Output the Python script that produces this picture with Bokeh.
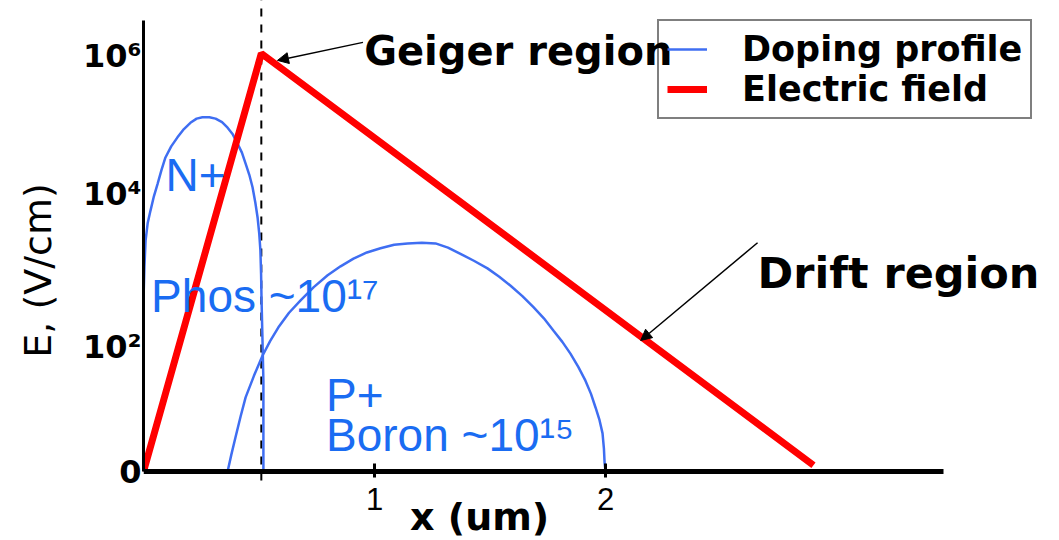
from bokeh.plotting import figure
from bokeh.models import (Range1d, FixedTicker, Label, Arrow, NormalHead,
                          Legend, LegendItem)
from bokeh.embed import file_html
from bokeh.resources import INLINE

# Depth into the device in um; vertical axis in decades above the baseline.
field_x = [0.0, 0.51, 2.90]
field_y = [0.0, 6.03, 0.09]

# N+ (phosphorus) implant profile
phos_x = [0.0, 0.0, 0.004, 0.009, 0.018, 0.030, 0.045, 0.061, 0.078, 0.095,
          0.120, 0.147, 0.175, 0.203, 0.230, 0.255, 0.285, 0.312, 0.340,
          0.364, 0.387, 0.407, 0.426, 0.442, 0.458, 0.472, 0.484, 0.494,
          0.501, 0.506, 0.509, 0.511, 0.515, 0.519, 0.519]
phos_y = [0.0, 2.47, 2.95, 3.33, 3.58, 3.76, 3.97, 4.15, 4.35, 4.53,
          4.69, 4.82, 4.94, 5.03, 5.09, 5.11, 5.11, 5.09, 5.04,
          4.96, 4.86, 4.73, 4.60, 4.44, 4.28, 4.10, 3.88, 3.66,
          3.43, 3.19, 2.85, 2.47, 1.90, 1.31, 0.0]

# P+ (boron) implant profile
boron_x = [0.364, 0.380, 0.398, 0.420, 0.442, 0.478, 0.515, 0.548, 0.584,
           0.630, 0.680, 0.737, 0.797, 0.853, 0.909, 0.967, 1.026, 1.085,
           1.143, 1.205, 1.264, 1.318, 1.372, 1.430, 1.489, 1.540, 1.589,
           1.640, 1.688, 1.733, 1.775, 1.813, 1.848, 1.882, 1.913, 1.937,
           1.957, 1.974, 1.987, 1.993, 1.996, 2.0]
boron_y = [0.0, 0.24, 0.49, 0.79, 1.07, 1.38, 1.67, 1.88, 2.08,
           2.29, 2.47, 2.66, 2.83, 2.96, 3.07, 3.16, 3.22, 3.27,
           3.29, 3.30, 3.29, 3.23, 3.14, 3.04, 2.93, 2.81, 2.68,
           2.53, 2.37, 2.21, 2.03, 1.87, 1.70, 1.51, 1.31, 1.12,
           0.92, 0.74, 0.55, 0.33, 0.12, 0.0]

# junction depth marker
junction_x = [0.51, 0.51]
junction_y = [-0.13, 6.8]

x_ticks = [1, 2]
y_tick_pos = [0, 1.8, 4, 6]
y_tick_text = ["0", "10²", "10⁴", "10⁶"]

BLUE_LINE = "#3f6ef2"
BLUE_TEXT = "#1a6cf2"
BOLD_FONT = "DejaVu Sans"
THIN_FONT = "Liberation Sans"

p = figure(width=1059, height=540,
           x_range=Range1d(0, 3.965), y_range=Range1d(-0.995, 6.794),
           output_backend="svg", toolbar_location=None,
           min_border_left=143, min_border_right=0,
           min_border_top=0, min_border_bottom=0)
p.outline_line_color = None
p.background_fill_color = "white"
p.border_fill_color = "white"
p.xgrid.visible = False
p.ygrid.visible = False

# x axis sits on the zero line
xa = p.xaxis[0]
xa.fixed_location = 0
xa.ticker = FixedTicker(ticks=x_ticks)
xa.bounds = (0, 3.463)
xa.axis_line_width = 5
xa.axis_line_color = "black"
xa.major_tick_line_width = 3
xa.major_tick_in = 8
xa.major_tick_out = 6
xa.minor_tick_line_color = None
xa.major_label_text_font = THIN_FONT
xa.major_label_text_font_size = "31px"
xa.major_label_text_color = "black"
xa.major_label_standoff = 10

# y axis
ya = p.yaxis[0]
ya.ticker = FixedTicker(ticks=y_tick_pos)
ya.major_label_overrides = {v: t for v, t in zip(y_tick_pos, y_tick_text)}
ya.bounds = (0, 6.5)
ya.axis_line_width = 3
ya.axis_line_color = "black"
ya.major_tick_in = 0
ya.major_tick_out = 0
ya.minor_tick_line_color = None
ya.major_label_text_font = BOLD_FONT
ya.major_label_text_font_style = "bold"
ya.major_label_text_font_size = "32px"
ya.major_label_text_color = "black"
ya.major_label_standoff = 2
ya.axis_label = "E, (V/cm)"
ya.axis_label_text_font = BOLD_FONT
ya.axis_label_text_font_style = "normal"
ya.axis_label_text_font_size = "38px"
ya.axis_label_text_color = "black"
ya.axis_label_standoff = 20

p.line(junction_x, junction_y, line_color="black", line_width=2,
       line_dash="8 8")

# doping profiles and electric field
r_phos = p.line(phos_x, phos_y, line_color=BLUE_LINE, line_width=2.5)
r_boron = p.line(boron_x, boron_y, line_color=BLUE_LINE, line_width=2.5)
r_field = p.line(field_x, field_y, line_color="red", line_width=7)

# open legend box: the "Geiger region" caption runs into its left edge
legend = Legend(items=[LegendItem(label="Doping profile", renderers=[r_phos]),
                       LegendItem(label="Electric field", renderers=[r_field])],
                location=(514, 421))
legend.label_text_font = BOLD_FONT
legend.label_text_font_style = "bold"
legend.label_text_font_size = "35px"
legend.label_text_color = "black"
legend.label_standoff = 35
legend.glyph_width = 40
legend.padding = 8
legend.spacing = 0
legend.margin = 0
legend.border_line_color = "black"
legend.border_line_width = 2
legend.background_fill_alpha = 0
p.add_layout(legend)

# region annotations
p.add_layout(Label(x=0.955, y=6.06, text="Geiger region", text_font=BOLD_FONT,
                   text_font_style="bold", text_font_size="40px",
                   text_color="black", text_baseline="alphabetic"))
p.add_layout(Label(x=2.658, y=2.86, text="Drift region", text_font=BOLD_FONT,
                   text_font_style="bold", text_font_size="43px",
                   text_color="black", text_baseline="alphabetic"))
p.add_layout(Arrow(x_start=0.95, y_start=6.19, x_end=0.58, y_end=5.93,
                   line_color="black", line_width=1.5,
                   end=NormalHead(size=11, fill_color="black", line_color="black")))
p.add_layout(Arrow(x_start=2.658, y_start=3.30, x_end=2.152, y_end=1.89,
                   line_color="black", line_width=1.5,
                   end=NormalHead(size=11, fill_color="black", line_color="black")))

# implant labels
for x, y, t in [(0.095, 4.28, "N+"), (0.033, 2.53, "Phos ~10¹⁷"),
                (0.790, 1.10, "P+"), (0.790, 0.52, "Boron ~10¹⁵")]:
    p.add_layout(Label(x=x, y=y, text=t, text_font=THIN_FONT,
                       text_font_size="46px", text_color=BLUE_TEXT,
                       text_baseline="alphabetic"))

# x axis title
p.add_layout(Label(x=1.455, y=-0.649, text="x (um)", text_font=BOLD_FONT,
                   text_font_style="bold", text_font_size="38px",
                   text_color="black", text_align="center",
                   text_baseline="middle"))

open("out.html", "w").write(file_html(p, INLINE))
